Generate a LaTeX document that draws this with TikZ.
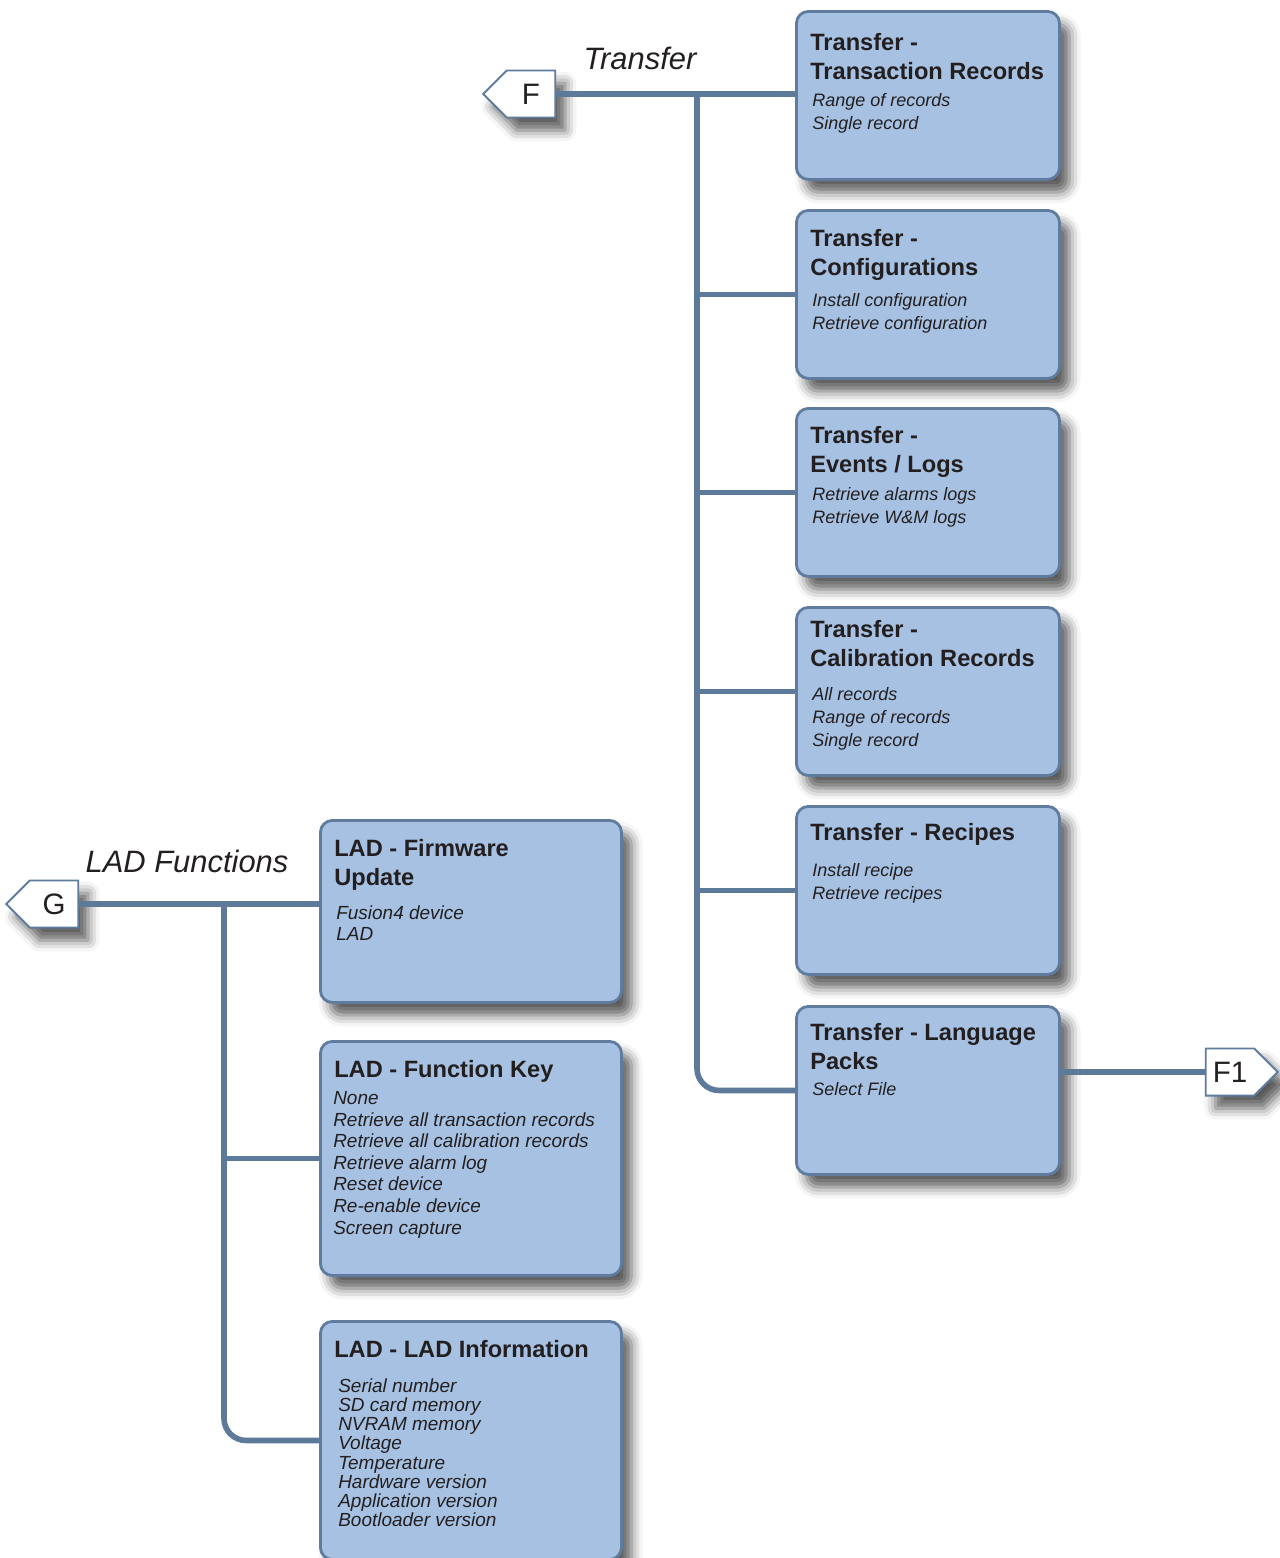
\documentclass[tikz,border=0pt]{standalone}
\usepackage{fontspec}
\setsansfont{Liberation Sans}
\usetikzlibrary{positioning, shapes.symbols, shadows.blur}
\definecolor{cbox}{HTML}{A6C1E2}
\definecolor{cedge}{HTML}{5F7C9E}
\definecolor{cwire}{HTML}{5E7A9A}
\definecolor{ctext}{HTML}{231F20}
\tikzset{
  every picture/.style={font=\sffamily, text=ctext},
  softshadow/.style={blur shadow={shadow xshift=7pt, shadow yshift=-9pt, shadow blur radius=8pt, shadow opacity=65}},
  card/.style={draw=cedge, fill=cbox, line width=2pt, rounded corners=0.3cm, anchor=north west, inner sep=0pt, softshadow},
  cardhead/.style={anchor=north west, align=left, inner sep=0pt, font=\sffamily\bfseries\fontsize{16.8}{20.6}\selectfont},
  cardbody/.style={anchor=north west, align=left, inner sep=0pt, font=\sffamily\itshape\fontsize{12.8}{16.4}\selectfont},
  tagbox/.style={signal, signal to=#1, draw=cedge, fill=white, line width=1.4pt, minimum width=1.8cm, minimum height=1.175cm, inner sep=0pt, font=\sffamily\fontsize{21}{21}\selectfont, softshadow},
  wire/.style={draw=cwire, line width=4pt},
  grouplabel/.style={font=\sffamily\itshape\fontsize{22}{22}\selectfont},
}

\begin{document}
\begin{tikzpicture}[x=0.025cm, y=-0.025cm]
  \useasboundingbox (0,0) rectangle (1280,1558);

  % transfer cards
  \foreach \n/\y/\ty/\by/\h/\b in {
    tr1/10/33/93/{Transfer -\\Transaction Records}/{Range of records\\Single record},
    tr2/209/229/293/{Transfer -\\Configurations}/{Install configuration\\Retrieve configuration},
    tr3/407/426/487/{Transfer -\\Events / Logs}/{Retrieve alarms logs\\Retrieve W\&M logs},
    tr4/606/620/687/{Transfer -\\Calibration Records}/{All records\\Range of records\\Single record},
    tr5/805/823/863/{Transfer - Recipes}/{Install recipe\\Retrieve recipes},
    tr6/1005/1023/1082/{Transfer - Language\\Packs}/{Select File}} {
    \node[card, minimum width=6.575cm, minimum height=4.2cm] (\n) at (795,\y) {};
    \node[cardhead] (\n-h) at (810,\ty) {\h};
    \node[cardbody] (\n-b) at (812,\by) {\b};
  }

  % LAD cards
  \foreach \n/\y/\hh/\ty/\bx/\by/\sk/\h/\b in {
    lb1/819/4.55/839/336/905/15.4/{LAD - Firmware\\Update}/{Fusion4 device\\LAD},
    lb2/1040/5.85/1060/333/1091/15.4/{LAD - Function Key}/{None\\Retrieve all transaction records\\Retrieve all calibration records\\Retrieve alarm log\\Reset device\\Re-enable device\\Screen capture},
    lb3/1320/5.95/1340/338/1378/13.7/{LAD - LAD Information}/{Serial number\\SD card memory\\NVRAM memory\\Voltage\\Temperature\\Hardware version\\Application version\\Bootloader version}} {
    \node[card, minimum width=7.525cm, minimum height=\hh cm] (\n) at (319,\y) {};
    \node[cardhead] (\n-h) at (334,\ty) {\h};
    \node[cardbody, font=\sffamily\itshape\fontsize{13.5}{\sk}\selectfont] (\n-b) at (\bx,\by) {\b};
  }

  % tags and group labels
  \node[tagbox=west] (tagF) at (531,94) {F};
  \node[tagbox=west] (tagG) at (54,904) {G};
  \node[tagbox=east] (tagF1) at (1230,1072) {F1};
  \node[grouplabel] (lblF) at (640,58) {Transfer};
  \node[grouplabel] (lblG) at (187,861) {LAD Functions};

  % connectors
  \coordinate (fjoin) at (697,94);
  \draw[wire] (tagF.east) -- (tagF.east -| tr1.west);
  \foreach \n in {tr2,tr3,tr4,tr5}
    \draw[wire] (fjoin |- \n.west) -- (\n.west);
  \draw[wire, rounded corners=0.55cm] (fjoin) |- (tr6.west);
  \draw[wire] (tr6.east |- tagF1.west) -- (tagF1.west);

  \coordinate (gjoin) at (224,906);
  \draw[wire] (tagG.east) -- (tagG.east -| lb1.west);
  \draw[wire] (gjoin |- lb2.west) -- (lb2.west);
  \draw[wire, rounded corners=0.55cm] (gjoin) |- (lb3.west);
\end{tikzpicture}
\end{document}
